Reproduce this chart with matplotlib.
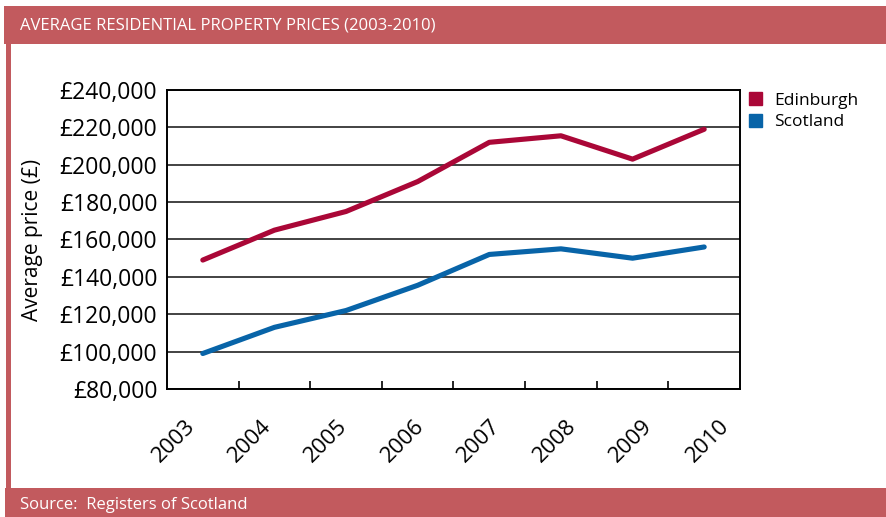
import matplotlib
matplotlib.use("Agg")
import matplotlib.pyplot as plt
from matplotlib.patches import Rectangle
from matplotlib.ticker import FuncFormatter

plt.rcParams["font.family"] = ["Open Sans", "DejaVu Sans"]

years = ["2003", "2004", "2005", "2006", "2007", "2008", "2009", "2010"]
edinburgh = [149000, 165000, 175000, 191000, 212000, 215500, 203000, 219000]
scotland = [99000, 113000, 122000, 135500, 152000, 155000, 150000, 156000]

BAR = "#C25A5E"; EDI = "#AA0737"; SCO = "#0864A8"
W, H = 887, 517

fig = plt.figure(figsize=(W/100, H/100), dpi=100)
fig.patch.set_facecolor("white")

def px(x0, y0, x1, y1):
    # pixel box (top-left origin) -> figure fraction rect
    return (x0/W, 1-y1/H, (x1-x0)/W, (y1-y0)/H)

for box in [(4, 6, 887, 44), (6, 44, 11, 488), (5, 488, 887, 517)]:
    x, y, w, h = px(*box)
    fig.patches.append(Rectangle((x, y), w, h, transform=fig.transFigure,
                                 color=BAR, lw=0, zorder=0))
fig.text(20/W, 1-25/H, "AVERAGE RESIDENTIAL PROPERTY PRICES (2003-2010)",
         color="white", fontsize=12, va="center", ha="left")
fig.text(20/W, 1-505/H, "Source:  Registers of Scotland",
         color="white", fontsize=12, va="center", ha="left")

ax = fig.add_axes(px(167, 90, 740, 389))
x = list(range(len(years)))
ax.plot(x, edinburgh, color=EDI, lw=3.7, solid_capstyle="round", label="Edinburgh", zorder=3)
ax.plot(x, scotland, color=SCO, lw=3.7, solid_capstyle="round", label="Scotland", zorder=3)

ax.set_xlim(-0.5, len(years)-0.5)
ax.set_ylim(80000, 240000)
ax.set_yticks(range(80000, 240001, 20000))
ax.yaxis.set_major_formatter(FuncFormatter(lambda v, p: f"£{int(v):,}"))
ax.grid(axis="y", color="#222", lw=1.2, zorder=1)
ax.tick_params(axis="y", length=0, pad=7, labelsize=16.5)
# year labels sit on a slightly wider pitch than the categories in the original
lab_pos = [i*1.065 - 0.05 for i in x]
ax.set_xticks(lab_pos)
ax.set_xticklabels(years, rotation=45, ha="right", fontsize=16)
ax.set_xticks([i+0.5 for i in range(len(years)-1)], minor=True)
ax.tick_params(axis="x", which="major", length=0, pad=19)
ax.tick_params(axis="x", which="minor", length=6, width=1.2, direction="in")
for s in ax.spines.values():
    s.set_linewidth(1.4); s.set_color("black")
ax.set_ylabel("Average price (£)", fontsize=15, labelpad=12)

ax.legend(loc="upper left", bbox_to_anchor=(0.988, 1.045), frameon=False,
          fontsize=12.5, handlelength=0.75, handleheight=0.75, handletextpad=0.7,
          labelspacing=0.3,
          handles=[Rectangle((0, 0), 1, 1, color=EDI), Rectangle((0, 0), 1, 1, color=SCO)],
          labels=["Edinburgh", "Scotland"])

fig.savefig("out.png", dpi=100)
